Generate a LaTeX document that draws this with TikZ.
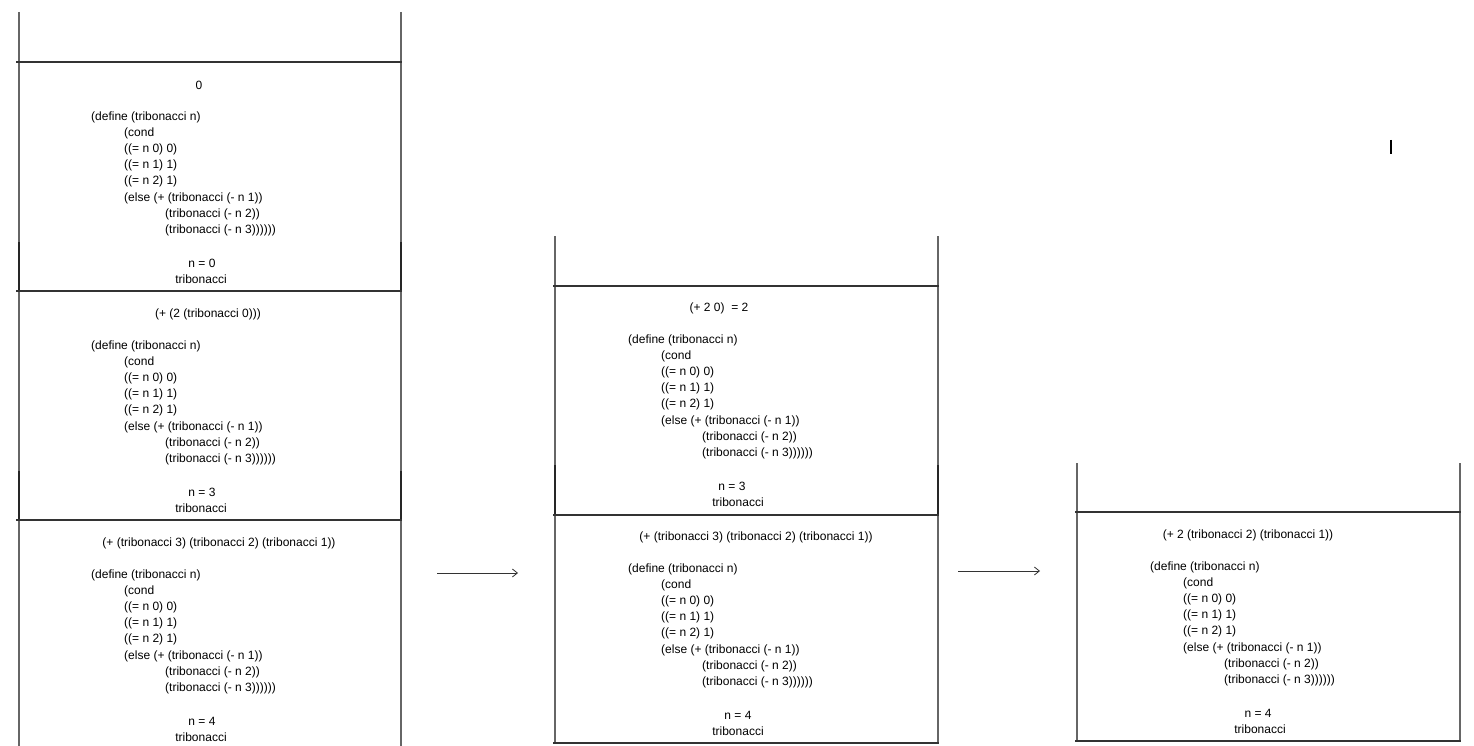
\documentclass[tikz,border=0pt]{standalone}
\usepackage{fontspec}
\setmainfont{Liberation Sans}
\usetikzlibrary{arrows.meta}
\tikzset{
  txt/.style={inner sep=0pt, font=\fontsize{12}{14}\selectfont, text=black, yshift=-1.5pt},
  code/.style={txt, anchor=west},
  hline/.style={line width=1.6pt, draw=black!80},
  vline/.style={line width=1.1pt, draw=black!60},
  vdark/.style={line width=1.6pt, draw=black!85},
  arr/.style={line width=0.8pt, draw=black!80, -{Straight Barb[length=5pt,width=8pt]}},
}
\newcommand\codeblk[3]{%
  \node[code] (#1a) at (#2,#3) {(define (tribonacci n)};
  \node[code] (#1b) at (#2+33,#3+16) {(cond};
  \node[code] (#1c) at (#2+33,#3+32) {((= n 0) 0)};
  \node[code] (#1d) at (#2+33,#3+48) {((= n 1) 1)};
  \node[code] (#1e) at (#2+33,#3+64) {((= n 2) 1)};
  \node[code] (#1f) at (#2+33,#3+81) {(else (+ (tribonacci (- n 1))};
  \node[code] (#1g) at (#2+74,#3+97) {(tribonacci (- n 2))};
  \node[code] (#1h) at (#2+74,#3+113) {(tribonacci (- n 3))))))};
}
\begin{document}
\begin{tikzpicture}[x=1pt,y=-1pt]
\useasboundingbox (0,0) rectangle (1474,746);
% ---------- left stack ----------
\draw[vline] (19,12) -- (19,746);
\draw[vline] (401,12) -- (401,746);
\draw[vdark] (19,242) -- (19,291) (401,242) -- (401,291);
\draw[vdark] (19,471) -- (19,520) (401,471) -- (401,520);
\draw[hline] (16,62) -- (402,62);
\draw[hline] (16,291) -- (402,291);
\draw[hline] (16,520) -- (402,520);
% frame 1
\node[txt] (l1h) at (199,84) {0};
\codeblk{l1}{91}{116}
\node[txt] (l1n) at (202,262) {n = 0};
\node[txt] (l1t) at (201,278) {tribonacci};
% frame 2
\node[txt] (l2h) at (208,313) {(+ (2 (tribonacci 0)))};
\codeblk{l2}{91}{345}
\node[txt] (l2n) at (202,491) {n = 3};
\node[txt] (l2t) at (201,507) {tribonacci};
% frame 3
\node[txt] (l3h) at (219,542) {(+ (tribonacci 3) (tribonacci 2) (tribonacci 1))};
\codeblk{l3}{91}{574}
\node[txt] (l3n) at (202,720) {n = 4};
\node[txt] (l3t) at (201,736) {tribonacci};
% ---------- middle stack ----------
\draw[vline] (555,236) -- (555,743);
\draw[vline] (938,236) -- (938,743);
\draw[vdark] (555,465) -- (555,515) (938,465) -- (938,515);
\draw[hline] (553,286) -- (939,286);
\draw[hline] (553,515) -- (939,515);
\draw[hline] (553,743) -- (939,743);
\node[txt] (m1h) at (719,307) {(+ 2 0) \ = 2};
\codeblk{m1}{628}{339}
\node[txt] (m1n) at (732,485) {n = 3};
\node[txt] (m1t) at (738,501) {tribonacci};
\node[txt] (m2h) at (756,536) {(+ (tribonacci 3) (tribonacci 2) (tribonacci 1))};
\codeblk{m2}{628}{568}
\node[txt] (m2n) at (738,714) {n = 4};
\node[txt] (m2t) at (738,730) {tribonacci};
% ---------- right stack ----------
\draw[vline] (1077,463) -- (1077,741);
\draw[vline] (1460,463) -- (1460,741);
\draw[hline] (1075,512) -- (1461,512);
\draw[hline] (1075,741) -- (1461,741);
\node[txt] (r1h) at (1248,534) {(+ 2 (tribonacci 2) (tribonacci 1))};
\codeblk{r1}{1150}{566}
\node[txt] (r1n) at (1258,712) {n = 4};
\node[txt] (r1t) at (1260,728) {tribonacci};
% ---------- arrows ----------
\coordinate (a1s) at (437,573);
\coordinate (a1e) at (518,573);
\coordinate (a2s) at (958,571);
\coordinate (a2e) at (1040,571);
\draw[arr] (a1s) -- (a1e);
\draw[arr] (a2s) -- (a2e);
% stray mark
\coordinate (mk1) at (1391,140);
\coordinate (mk2) at (1391,154);
\draw[line width=1.2pt, black] (mk1) -- (mk2);
\end{tikzpicture}
\end{document}
